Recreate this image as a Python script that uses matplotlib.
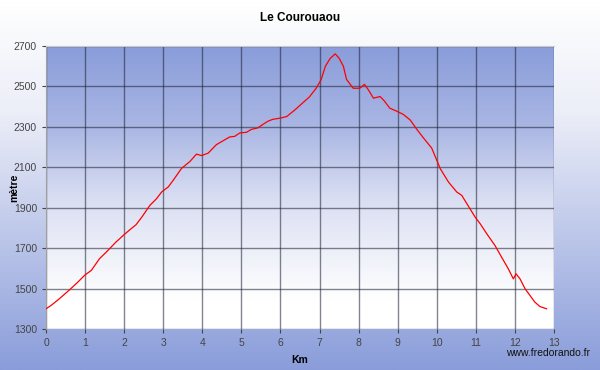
import numpy as np
import matplotlib
matplotlib.use('Agg')
import matplotlib.pyplot as plt
from matplotlib.colors import LinearSegmentedColormap

plt.rcParams['font.family'] = ['Liberation Sans', 'DejaVu Sans']

# profil altimétrique (km, mètres)
km = [0.0, 0.14, 0.35, 0.61, 0.82, 0.99, 1.16, 1.37, 1.54, 1.79, 2.00, 2.17,
      2.30, 2.45, 2.66, 2.83, 2.96, 3.13, 3.26, 3.47, 3.68, 3.85, 3.98, 4.15,
      4.36, 4.70, 4.83, 4.96, 5.13, 5.25, 5.42, 5.55, 5.68, 5.80, 5.99, 6.16,
      6.37, 6.52, 6.74, 6.91, 7.04, 7.15, 7.27, 7.40, 7.50, 7.61, 7.69, 7.86,
      8.03, 8.15, 8.25, 8.38, 8.55, 8.65, 8.80, 8.97, 9.14, 9.32, 9.50, 9.66,
      9.87, 10.0, 10.09, 10.30, 10.51, 10.64, 10.77, 10.98, 11.11, 11.28, 11.49,
      11.66, 11.83, 11.96, 12.03, 12.13, 12.26, 12.51, 12.64, 12.81]
alt = [1400, 1418, 1451, 1495, 1533, 1566, 1590, 1648, 1680, 1730, 1767, 1795,
       1815, 1853, 1912, 1945, 1978, 2003, 2037, 2095, 2128, 2165, 2158, 2170,
       2212, 2250, 2253, 2270, 2273, 2287, 2295, 2312, 2328, 2337, 2343, 2351,
       2384, 2410, 2448, 2490, 2533, 2600, 2638, 2661, 2640, 2600, 2535, 2491,
       2491, 2510, 2483, 2442, 2450, 2430, 2392, 2378, 2362, 2334, 2285, 2245,
       2195, 2135, 2093, 2027, 1978, 1961, 1920, 1854, 1821, 1771, 1713,
       1655, 1598, 1548, 1573, 1548, 1499, 1433, 1411, 1400]

x_ticks = list(range(0, 14))
y_ticks = list(range(1300, 2701, 200))

fig = plt.figure(figsize=(6, 3.7), dpi=100)

# fond de la figure : blanc en haut, bleu en bas
bg = fig.add_axes([0, 0, 1, 1], zorder=-10)
cm_fig = LinearSegmentedColormap.from_list(
    'fig', [(0, '#ffffff'), (0.3, '#eceef8'), (1, '#8a9dda')])
bg.imshow(np.linspace(0, 1, 256).reshape(-1, 1), cmap=cm_fig,
          aspect='auto', extent=[0, 1, 0, 1])
bg.axis('off')

ax = fig.add_axes([46 / 600, 41 / 370, 508 / 600, 283 / 370])
ax.set_facecolor('none')
cm_ax = LinearSegmentedColormap.from_list(
    'ax', [(0, '#8a9dda'), (0.28, '#a9b6e4'), (0.54, '#d9def2'),
           (0.75, '#f0f2fa'), (0.9, '#ffffff'), (1, '#ffffff')])
ax.imshow(np.linspace(0, 1, 256).reshape(-1, 1), cmap=cm_ax, aspect='auto',
          extent=[0, 13, 1300, 2700], zorder=0)

ax.plot(km, alt, color='#ff0000', lw=0.9, zorder=3)

ax.set_xlim(0, 13)
ax.set_ylim(1300, 2700)
ax.set_xticks(x_ticks)
ax.set_yticks(y_ticks)
ax.grid(True, color='#1a1f33', alpha=0.55, lw=1)
ax.tick_params(labelsize=7.5, colors='#444444', length=3, width=0.8)
for s in ['right', 'bottom']:
    ax.spines[s].set_visible(False)
ax.spines['left'].set_color('#a0a0a0')
ax.spines['top'].set_color('#c8c8c8')

ax.set_title('Le Courouaou', fontsize=8.5, fontweight='bold', pad=18)
ax.set_xlabel('Km', fontsize=7.5, fontweight='bold', labelpad=5)
ax.set_ylabel('mètre', fontsize=7.5, fontweight='bold')
ax.yaxis.set_label_coords(-0.053, 0.5)
fig.text(0.983, 0.045, 'www.fredorando.fr', ha='right', va='center',
         fontsize=7.5, color='#111111')

fig.savefig('out.png', dpi=100)
